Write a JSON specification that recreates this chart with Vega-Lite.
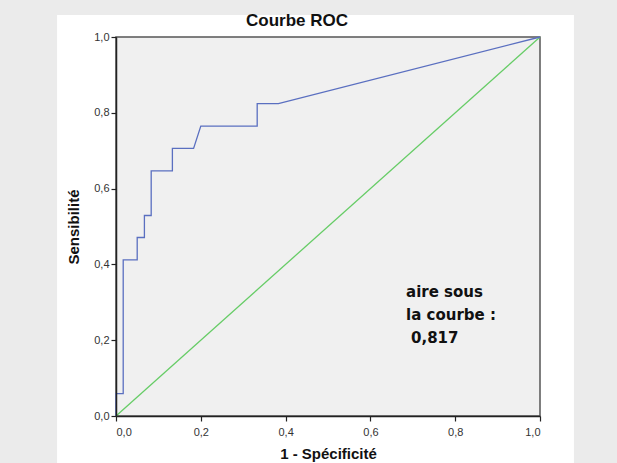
{
  "$schema": "https://vega.github.io/schema/vega-lite/v6.json",
  "width": 424,
  "height": 379,
  "autosize": {"type": "none"},
  "padding": {"left": 116, "top": 37, "right": 77, "bottom": 47},
  "background": "#ebebeb",
  "config": {
    "view": {"stroke": null},
    "axis": {"domainColor": "#222", "domainWidth": 1.5, "tickColor": "#222", "tickSize": 5, "tickWidth": 1.2, "labelFont": "Liberation Sans", "labelFontSize": 11, "labelColor": "#333", "titleFont": "Liberation Sans", "titleFontSize": 15, "titleFontWeight": "bold", "titleColor": "#111", "grid": false}
  },
  "datasets": {
    "roc": [
      {"o": 0, "fpr": 0, "sens": 0},
      {"o": 1, "fpr": 0, "sens": 0.059},
      {"o": 2, "fpr": 0.017, "sens": 0.059},
      {"o": 3, "fpr": 0.017, "sens": 0.412},
      {"o": 4, "fpr": 0.05, "sens": 0.412},
      {"o": 5, "fpr": 0.05, "sens": 0.471},
      {"o": 6, "fpr": 0.067, "sens": 0.471},
      {"o": 7, "fpr": 0.067, "sens": 0.529},
      {"o": 8, "fpr": 0.083, "sens": 0.529},
      {"o": 9, "fpr": 0.083, "sens": 0.647},
      {"o": 10, "fpr": 0.133, "sens": 0.647},
      {"o": 11, "fpr": 0.133, "sens": 0.706},
      {"o": 12, "fpr": 0.183, "sens": 0.706},
      {"o": 13, "fpr": 0.2, "sens": 0.765},
      {"o": 14, "fpr": 0.333, "sens": 0.765},
      {"o": 15, "fpr": 0.333, "sens": 0.824},
      {"o": 16, "fpr": 0.383, "sens": 0.824},
      {"o": 17, "fpr": 1, "sens": 1}
    ],
    "diag": [
      {"o": 0, "fpr": 0, "sens": 0},
      {"o": 1, "fpr": 1, "sens": 1}
    ]
  },
  "layer": [
    {
      "data": {"values": [{}]},
      "mark": {"type": "rect", "fill": "white", "stroke": null},
      "encoding": {
        "x": {"datum": -0.139, "type": "quantitative", "scale": {"domain": [0, 1], "nice": false, "zero": false},
              "axis": {"zindex": 2, "values": [0, 0.2, 0.4, 0.6, 0.8, 1], "labelExpr": "replace(format(datum.value, '.1f'), '.', ',')", "title": "1 - Spécificité", "titlePadding": 9, "labelPadding": 5}},
        "x2": {"datum": 1.08},
        "y": {"datum": -0.124, "type": "quantitative", "scale": {"domain": [0, 1], "nice": false, "zero": false},
              "axis": {"zindex": 2, "values": [0, 0.2, 0.4, 0.6, 0.8, 1], "labelExpr": "replace(format(datum.value, '.1f'), '.', ',')", "title": "Sensibilité", "titlePadding": 12, "labelPadding": 2}},
        "y2": {"datum": 1.058}
      }
    },
    {
      "data": {"values": [{}]},
      "mark": {"type": "rect", "fill": "#f0f0f0", "stroke": "#555", "strokeWidth": 1.5},
      "encoding": {
        "x": {"datum": 0, "type": "quantitative"},
        "x2": {"datum": 1},
        "y": {"datum": 0, "type": "quantitative"},
        "y2": {"datum": 1}
      }
    },
    {
      "data": {"name": "diag"},
      "mark": {"type": "line", "color": "#66cc66", "strokeWidth": 1.3},
      "encoding": {
        "x": {"field": "fpr", "type": "quantitative"},
        "y": {"field": "sens", "type": "quantitative"},
        "order": {"field": "o"}
      }
    },
    {
      "data": {"name": "roc"},
      "mark": {"type": "line", "color": "#5a6fc0", "strokeWidth": 1.3},
      "encoding": {
        "x": {"field": "fpr", "type": "quantitative"},
        "y": {"field": "sens", "type": "quantitative"},
        "order": {"field": "o"}
      }
    },
    {
      "data": {"values": [{}]},
      "mark": {"type": "text", "text": ["aire sous", "la courbe :"], "align": "left", "baseline": "alphabetic", "lineHeight": 23, "font": "DejaVu Sans", "fontSize": 15, "fontWeight": "bold", "color": "#111"},
      "encoding": {
        "x": {"datum": 0.684, "type": "quantitative"},
        "y": {"datum": 0.314, "type": "quantitative"}
      }
    },
    {
      "data": {"values": [{}]},
      "mark": {"type": "text", "text": "0,817", "align": "left", "baseline": "alphabetic", "dx": 5, "font": "DejaVu Sans", "fontSize": 15, "fontWeight": "bold", "color": "#111"},
      "encoding": {
        "x": {"datum": 0.684, "type": "quantitative"},
        "y": {"datum": 0.193, "type": "quantitative"}
      }
    },
    {
      "data": {"values": [{}]},
      "mark": {"type": "text", "text": "Courbe ROC", "align": "center", "baseline": "alphabetic", "font": "Liberation Sans", "fontSize": 17, "fontWeight": "bold", "color": "#111"},
      "encoding": {
        "x": {"datum": 0.427, "type": "quantitative"},
        "y": {"datum": 1.03, "type": "quantitative"}
      }
    }
  ]
}
